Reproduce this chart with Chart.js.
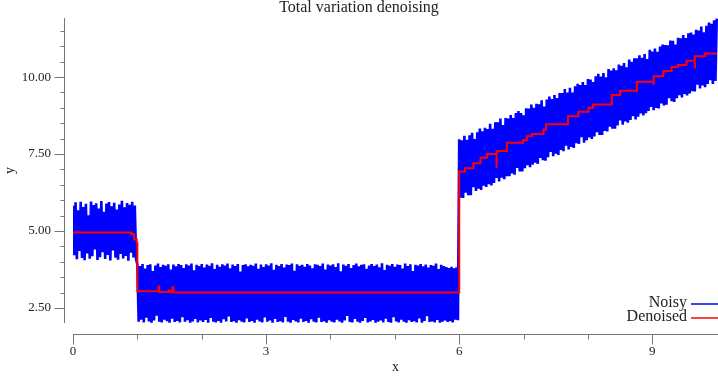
<!DOCTYPE html>
<html>
<head>
<meta charset="utf-8">
<title>Total variation denoising</title>
<script src="https://cdn.jsdelivr.net/npm/chart.js@4.4.0/dist/chart.umd.min.js"></script>
<style>
  html, body { margin: 0; padding: 0; background: #fff; }
</style>
</head>
<body>
<canvas id="tvChart" width="718" height="378"></canvas>
<script>
// noisy signal, one sample every xStep along x (starting at 0)
var xStep = 0.02;
var noisyY = [
  // 0 .. 1
  5.82, 4.21, 5.93, 4.08, 5.67, 4.35, 5.95, 4.12, 5.78, 4.05,
  5.88, 4.27, 5.51, 4.10, 5.96, 4.18, 5.84, 4.40, 5.90, 4.06,
  5.73, 4.15, 5.97, 4.31, 5.62, 4.09, 5.89, 4.22, 5.94, 4.04,
  5.80, 4.37, 5.92, 4.13, 5.70, 4.07, 5.86, 4.25, 5.98, 4.11,
  5.77, 4.19, 5.91, 4.03, 5.85, 4.29, 5.95, 4.14, 5.83, 4.08,
  // 1 .. 6
  3.91, 2.05, 3.86, 2.12, 3.93, 2.03, 3.78, 2.18, 3.89, 2.06,
  3.92, 2.02, 3.70, 2.09, 3.88, 2.25, 3.94, 2.05, 3.83, 2.03,
  3.90, 2.12, 3.87, 2.07, 3.92, 2.02, 3.75, 2.15, 3.91, 2.04,
  3.85, 2.08, 3.93, 2.03, 3.89, 2.20, 3.80, 2.05, 3.92, 2.10,
  3.88, 2.02, 3.94, 2.06, 3.72, 2.14, 3.90, 2.03, 3.86, 2.09,
  3.93, 2.04, 3.81, 2.11, 3.91, 2.02, 3.87, 2.17, 3.95, 2.05,
  3.76, 2.03, 3.90, 2.08, 3.84, 2.02, 3.92, 2.13, 3.88, 2.06,
  3.94, 2.22, 3.79, 2.04, 3.91, 2.07, 3.86, 2.02, 3.93, 2.10,
  3.68, 2.05, 3.89, 2.03, 3.92, 2.16, 3.85, 2.04, 3.90, 2.08,
  3.87, 2.02, 3.94, 2.12, 3.77, 2.06, 3.91, 2.03, 3.83, 2.19,
  3.92, 2.05, 3.88, 2.09, 3.95, 2.02, 3.74, 2.14, 3.90, 2.04,
  3.86, 2.07, 3.93, 2.03, 3.81, 2.21, 3.91, 2.05, 3.89, 2.02,
  3.94, 2.11, 3.71, 2.06, 3.92, 2.03, 3.87, 2.15, 3.90, 2.04,
  3.84, 2.08, 3.93, 2.02, 3.88, 2.13, 3.79, 2.05, 3.92, 2.03,
  3.90, 2.18, 3.86, 2.04, 3.94, 2.07, 3.75, 2.02, 3.91, 2.10,
  3.88, 2.05, 3.92, 2.03, 3.83, 2.12, 3.95, 2.06, 3.69, 2.02,
  3.91, 2.09, 3.87, 2.24, 3.93, 2.04, 3.80, 2.03, 3.89, 2.14,
  3.94, 2.05, 3.85, 2.02, 3.90, 2.08, 3.92, 2.17, 3.77, 2.03,
  3.88, 2.06, 3.93, 2.11, 3.86, 2.02, 3.91, 2.05, 3.82, 2.09,
  3.95, 2.03, 3.73, 2.15, 3.90, 2.04, 3.87, 2.02, 3.93, 2.20,
  3.84, 2.06, 3.91, 2.03, 3.89, 2.12, 3.78, 2.05, 3.94, 2.02,
  3.86, 2.10, 3.92, 2.04, 3.70, 2.07, 3.90, 2.03, 3.88, 2.16,
  3.93, 2.02, 3.85, 2.08, 3.91, 2.23, 3.81, 2.04, 3.89, 2.06,
  3.87, 2.03, 3.94, 2.11, 3.76, 2.02, 3.90, 2.05, 3.86, 2.09,
  3.83, 2.04, 3.80, 2.07, 3.84, 2.03, 3.79, 2.12, 3.82, 2.10,
  // 6 .. 10
  7.98, 6.08, 7.95, 6.07, 8.09, 6.24, 7.96, 6.16, 8.11, 6.16,
  8.19, 6.42, 7.99, 6.30, 8.21, 6.37, 8.33, 6.33, 8.24, 6.47,
  8.35, 6.43, 8.31, 6.52, 8.48, 6.48, 8.32, 6.56, 8.53, 6.72,
  8.53, 6.61, 8.65, 6.73, 8.44, 6.68, 8.67, 6.78, 8.65, 6.78,
  8.77, 6.87, 8.67, 6.83, 8.83, 7.05, 8.90, 6.93, 8.83, 6.93,
  8.76, 7.04, 8.99, 7.14, 8.98, 7.07, 9.11, 7.15, 9.00, 7.22,
  9.13, 7.18, 9.12, 7.37, 9.25, 7.30, 9.04, 7.28, 9.27, 7.40,
  9.37, 7.57, 9.29, 7.43, 9.42, 7.51, 9.32, 7.47, 9.48, 7.63,
  9.48, 7.59, 9.61, 7.77, 9.50, 7.65, 9.65, 7.73, 9.50, 7.70,
  9.70, 7.85, 9.78, 7.83, 9.74, 8.05, 9.84, 7.87, 9.74, 7.95,
  9.94, 8.04, 9.92, 7.99, 9.84, 8.07, 10.03, 8.21, 10.11, 8.12,
  10.02, 8.12, 10.13, 8.25, 9.99, 8.23, 10.26, 8.39, 10.21, 8.32,
  10.29, 8.32, 10.22, 8.43, 10.41, 8.59, 10.37, 8.45, 10.46, 8.56,
  10.32, 8.52, 10.57, 8.61, 10.50, 8.73, 10.61, 8.62, 10.61, 8.71,
  10.71, 8.82, 10.63, 8.75, 10.75, 8.83, 10.59, 8.90, 10.89, 9.03,
  10.83, 8.92, 10.93, 9.00, 10.82, 8.98, 10.99, 9.14, 11.06, 9.08,
  11.04, 9.10, 11.03, 9.31, 11.19, 9.22, 11.18, 9.19, 11.06, 9.31,
  11.28, 9.41, 11.26, 9.34, 11.37, 9.45, 11.27, 9.40, 11.42, 9.47,
  11.45, 9.54, 11.38, 9.53, 11.54, 9.75, 11.51, 9.63, 11.64, 9.73,
  11.46, 9.67, 11.67, 9.78, 11.77, 9.90, 11.73, 9.78, 11.85, 9.87,
  11.90
];

// denoised signal: level holds from each x until the next one
var denoisedX = [0, 0.91, 0.95, 0.99, 1.0, 1.33, 1.34, 1.49, 1.52, 1.545, 1.56,
  6.0, 6.09, 6.22, 6.33, 6.43, 6.58, 6.58, 6.74, 6.99, 7.05, 7.13, 7.31, 7.35,
  7.69, 7.85, 8.01, 8.08, 8.37, 8.5, 8.76, 9.02, 9.02, 9.17, 9.3, 9.4, 9.53,
  9.66, 9.66, 9.82, 10.0];
var denoisedY = [4.95, 4.9, 4.72, 4.6, 3.04, 3.2, 3.02, 3.07, 3.02, 3.17, 3.0,
  6.93, 7.04, 7.2, 7.38, 7.5, 7.05, 7.6, 7.87, 7.95, 8.08, 8.15, 8.3, 8.47,
  8.73, 8.87, 9.0, 9.11, 9.42, 9.56, 9.85, 9.74, 10.03, 10.2, 10.33, 10.39, 10.53,
  10.28, 10.68, 10.77, 10.77];

var seriesNames = ['Noisy', 'Denoised'];
var xLabelled = [0, 3, 6, 9];
var yLabelled = [2.5, 5, 7.5, 10];

var noisyPoints = noisyY.map(function (v, i) {
    return { x: Math.round(i * xStep * 1000) / 1000, y: v };
});
var denoisedPoints = denoisedX.map(function (x, i) {
    return { x: x, y: denoisedY[i] };
});

var serif = 'Liberation Serif, Times New Roman, serif';
var textColor = '#222';
var axisColor = '#777';
var noisyColor = '#0000ff';
var denoisedColor = '#ff0000';

// detached axis lines + major/minor tick marks
var axesPlugin = {
    id: 'axesPlugin',
    afterDraw: function (chart) {
        var c = chart.ctx, area = chart.chartArea;
        var xs = chart.scales.x, ys = chart.scales.y;
        c.save();
        c.strokeStyle = axisColor;
        c.lineWidth = 1;
        c.beginPath();
        var ax = area.left - 8.5;
        c.moveTo(ax, area.top);
        c.lineTo(ax, area.bottom);
        ys.ticks.forEach(function (t) {
            var p = Math.round(ys.getPixelForValue(t.value)) + 0.5;
            var len = yLabelled.indexOf(t.value) >= 0 ? 10 : 4;
            c.moveTo(ax - len, p);
            c.lineTo(ax, p);
        });
        var ay = area.bottom + 11.5;
        c.moveTo(xs.getPixelForValue(0), ay);
        c.lineTo(chart.width, ay);
        xs.ticks.forEach(function (t) {
            var p = Math.round(xs.getPixelForValue(t.value)) + 0.5;
            var len = xLabelled.indexOf(t.value) >= 0 ? 10 : 5;
            c.moveTo(p, ay);
            c.lineTo(p, ay + len);
        });
        c.stroke();
        c.restore();
    }
};

// legend in the lower right corner
var legendPlugin = {
    id: 'legendPlugin',
    afterDraw: function (chart) {
        var c = chart.ctx;
        var rows = [307, 320.5];
        var swatch = [noisyColor, denoisedColor];
        c.save();
        c.font = '16px ' + serif;
        c.textAlign = 'right';
        c.textBaseline = 'alphabetic';
        chart.data.datasets.forEach(function (ds, i) {
            c.fillStyle = textColor;
            c.fillText(ds.label, 687, rows[i]);
            c.strokeStyle = swatch[i];
            c.lineWidth = 1.5;
            c.beginPath();
            c.moveTo(691, Math.round(rows[i] - 3));
            c.lineTo(718, Math.round(rows[i] - 3));
            c.stroke();
        });
        c.restore();
    }
};

var ctx = document.getElementById('tvChart').getContext('2d');
var tvChart = new Chart(ctx, {
    type: 'line',
    data: {
        datasets: [{
            label: seriesNames[0],
            data: noisyPoints,
            borderColor: noisyColor,
            borderWidth: 2.6,
            borderJoinStyle: 'bevel',
            pointRadius: 0,
            tension: 0,
            order: 2
        }, {
            label: seriesNames[1],
            data: denoisedPoints,
            borderColor: denoisedColor,
            borderWidth: 2,
            pointRadius: 0,
            stepped: true,
            order: 1
        }]
    },
    options: {
        responsive: false,
        animation: false,
        events: [],
        layout: { padding: 0 },
        plugins: {
            legend: { display: false },
            tooltip: { enabled: false },
            title: {
                display: true,
                text: 'Total variation denoising',
                color: textColor,
                font: { family: serif, size: 16, weight: 'normal', lineHeight: 0.875 },
                padding: { top: 1, bottom: 3 }
            }
        },
        scales: {
            x: {
                type: 'linear',
                min: 0,
                max: 10.02,
                afterFit: function (s) { s.height = 55; },
                afterBuildTicks: function (s) {
                    s.ticks = s.ticks.filter(function (t) { return t.value < 9.5; });
                },
                grid: { display: false, drawTicks: true, tickLength: 21 },
                border: { display: false },
                ticks: {
                    stepSize: 1,
                    includeBounds: false,
                    autoSkip: false,
                    maxRotation: 0,
                    padding: 0,
                    color: textColor,
                    font: { family: serif, size: 13 },
                    callback: function (v) { return xLabelled.indexOf(v) >= 0 ? String(v) : ''; }
                },
                title: {
                    display: true,
                    text: 'x',
                    color: textColor,
                    font: { family: serif, size: 14 },
                    padding: { top: 0, bottom: 2 }
                }
            },
            y: {
                min: 2.01,
                max: 11.92,
                afterFit: function (s) { s.width = 73; },
                grid: { display: false, drawTicks: true, tickLength: 22 },
                border: { display: false },
                ticks: {
                    stepSize: 0.5,
                    includeBounds: false,
                    autoSkip: false,
                    padding: 0,
                    color: textColor,
                    font: { family: serif, size: 13 },
                    callback: function (v) { return yLabelled.indexOf(v) >= 0 ? v.toFixed(2) : ''; }
                },
                title: {
                    display: true,
                    text: 'y',
                    color: textColor,
                    font: { family: serif, size: 14 },
                    padding: { top: 2, bottom: 0 }
                }
            }
        }
    },
    plugins: [axesPlugin, legendPlugin]
});
</script>
</body>
</html>
